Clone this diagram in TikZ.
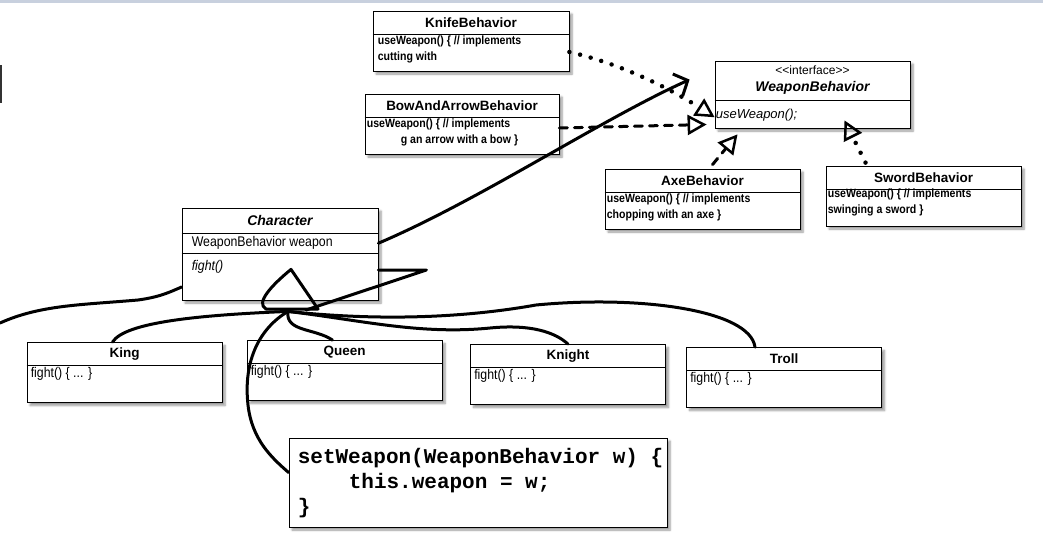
\documentclass[tikz,border=0pt]{standalone}
\usepackage{fontspec}
\setmainfont{Liberation Sans}
\newfontfamily\narrowfont{Liberation Sans}[FakeStretch=0.88]
\newfontfamily\codefont{Liberation Mono}
\usetikzlibrary{positioning,arrows.meta,shadows.blur}

\definecolor{topbar}{RGB}{200,208,222}

\tikzstyle{classbox} = [draw=black, fill=white, thick, rectangle, inner sep=0pt,
    blur shadow={shadow xshift=3pt, shadow yshift=-3pt, shadow blur steps=6}]
\tikzstyle{classname} = [inner sep=0pt, minimum height=23pt,
    font=\bfseries\fontsize{13.5}{16}\selectfont]
\tikzstyle{classbody} = [anchor=north west, inner sep=2pt, align=left,
    font=\narrowfont\bfseries\fontsize{12}{16}\selectfont]
\tikzstyle{hand} = [line width=3pt, line cap=round, line join=round]
\tikzstyle{realize} = [hand, -{Triangle[open, length=19pt, width=20pt, line width=2.5pt]}]
\tikzstyle{dotline} = [line width=4.5pt, dash pattern=on 0pt off 11pt]
\tikzstyle{dashline} = [dash pattern=on 8pt off 7pt]

\begin{document}
\begin{tikzpicture}[x=1pt, y=-1pt]
\useasboundingbox (0,0) rectangle (1043,555);
\fill[topbar] (0,0) rectangle (1043,3);
\fill[black!80] (0,65) rectangle (2,103);

%------------ Verhaltens-Klassen ---------------------
\node[classbox, minimum width=196pt, minimum height=60pt] (knife) at (471,41) {};
\node[classname, below=0pt of knife.north] (knife-t) {KnifeBehavior};
\draw[thick] (knife.west |- knife-t.south) -- (knife.east |- knife-t.south);
\node[classbody, inner xsep=5pt] (knife-b) at (knife.west |- knife-t.south)
    {useWeapon() \{ // implements\\cutting with};

\node[classbox, minimum width=194pt, minimum height=60pt] (bow) at (462,124) {};
\node[classname, below=0pt of bow.north] (bow-t) {BowAndArrowBehavior};
\draw[thick] (bow.west |- bow-t.south) -- (bow.east |- bow-t.south);
\node[classbody] (bow-b) at (bow.west |- bow-t.south)
    {useWeapon() \{ // implements\\\hspace*{34pt}g an arrow with a bow \}};

\node[classbox, minimum width=195pt, minimum height=60pt] (axe) at (702.5,199) {};
\node[classname, below=0pt of axe.north] (axe-t) {AxeBehavior};
\draw[thick] (axe.west |- axe-t.south) -- (axe.east |- axe-t.south);
\node[classbody] (axe-b) at (axe.west |- axe-t.south)
    {useWeapon() \{ // implements\\chopping with an axe \}};

\node[classbox, minimum width=195pt, minimum height=60pt] (sword) at (923.5,196) {};
\node[classname, below=0pt of sword.north] (sword-t) {SwordBehavior};
\draw[thick] (sword.west |- sword-t.south) -- (sword.east |- sword-t.south);
\node[classbody, inner ysep=0pt] (sword-b) at (sword.west |- sword-t.south)
    {useWeapon() \{ // implements\\swinging a sword \}};

%------------ Interface ---------------------
\node[classbox, minimum width=195pt, minimum height=67pt] (iface) at (812.5,94.5) {};
\node[classname, minimum height=39pt, align=center, below=0pt of iface.north,
    font=\bfseries\itshape\fontsize{14}{17}\selectfont] (iface-t)
    {{\normalfont\fontsize{12}{14}\selectfont <\kern0pt<interface>\kern0pt>}\\WeaponBehavior};
\draw[thick] (iface.west |- iface-t.south) -- (iface.east |- iface-t.south);
\node[classbody, inner xsep=1pt, font=\itshape\fontsize{13}{15}\selectfont] (iface-b)
    at ([yshift=-7pt]iface.west |- iface-t.south) {useWeapon();};

%------------ Character ---------------------
\node[classbox, minimum width=196pt, minimum height=92pt] (char) at (280,254) {};
\node[classname, minimum height=25pt, below=0pt of char.north,
    font=\bfseries\itshape\fontsize{14}{16}\selectfont] (char-t) {Character};
\draw[thick] (char.west |- char-t.south) -- (char.east |- char-t.south);
\node[classname, minimum height=20pt, anchor=north west, inner xsep=10pt,
    font=\narrowfont\fontsize{14}{16}\selectfont] (char-a) at (char.west |- char-t.south)
    {WeaponBehavior weapon};
\draw[thick] (char.west |- char-a.south) -- (char.east |- char-a.south);
\node[classbody, inner xsep=10pt, inner ysep=0pt, font=\narrowfont\itshape\fontsize{14}{16}\selectfont]
    (char-m) at ([yshift=-7pt]char.west |- char-a.south) {fight()};

%------------ Unterklassen ---------------------
\foreach \cls/\cx/\cy/\lbl in {king/124.5/372.5/King, queen/344.5/370.5/Queen,
    knight/568/374.5/Knight, troll/784/377.5/Troll}{
  \node[classbox, minimum width=195pt, minimum height=60pt] (\cls) at (\cx,\cy) {};
  \node[classname, below=0pt of \cls.north] (\cls-t) {\lbl};
  \draw[thick] (\cls.west |- \cls-t.south) -- (\cls.east |- \cls-t.south);
  \node[classbody, inner xsep=4pt, font=\narrowfont\fontsize{14}{16}\selectfont] (\cls-b)
      at (\cls.west |- \cls-t.south) {fight() \{ ... \}};
}

%------------ setWeapon ---------------------
\node[classbox, minimum width=378pt, minimum height=89pt] (code) at (478,482.5) {};
\node[anchor=north west, align=left, inner sep=0pt,
    font=\codefont\bfseries\fontsize{21}{25}\selectfont] (code-t)
    at ([xshift=9pt, yshift=-10pt]code.north west)
    {setWeapon(WeaponBehavior w) \{\\\hspace*{51pt}this.weapon = w;\\\}};

%------------ Implementierungen ---------------------
\draw[realize, dotline] ([yshift=-11pt]knife.east) .. controls (630,66) and (680,95) .. ([yshift=-2pt]iface-b.west);
\draw[realize, dashline] ([yshift=-4pt]bow.east) -- ([xshift=-8pt, yshift=-30pt]iface.west);
\draw[realize, dashline] ([xshift=10pt, yshift=4pt]axe.north) -- ([xshift=-75pt, yshift=-6pt]iface.south);
\draw[realize, dotline] ([xshift=-58pt, yshift=3pt]sword.north) -- ([xshift=32pt, yshift=8pt]iface.south);

%------------ Assoziation ---------------------
\draw[hand, -{Straight Barb[length=11pt, width=24pt]}] (char.east |- char-a)
    .. controls (480,200) and (600,120) .. ([xshift=-25pt, yshift=-19pt]iface.north west);

%------------ Vererbung ---------------------
\coordinate (apex) at ([xshift=11pt, yshift=31pt]char.south);
\coordinate (gen) at ([xshift=8pt, yshift=-11pt]char.south);
\draw[hand] (apex) .. controls (272,285) and (255,303) .. (266,309) -- (318,309) -- cycle;
\draw[hand] (gen) .. controls (200,315) and (125,322) .. ([xshift=-12pt]king.north);
\draw[hand] (gen) .. controls (285,332) and (315,328) .. ([xshift=-12pt]queen.north);
\draw[hand] (gen) .. controls (260,328) and (243,360) .. (248,405)
    .. controls (252,440) and (272,458) .. ([yshift=10pt]code.west);
\draw[hand] (gen) .. controls (360,320) and (420,335) .. (490,328)
    .. controls (530,324) and (555,332) .. (knight.north);
\draw[hand] (gen) .. controls (350,318) and (440,322) .. (536,305)
    .. controls (640,295) and (750,310) .. ([xshift=-29pt]troll.north);
\draw[hand] ([yshift=-16pt]char.east) -- ++(48,0) -- (306,310);
\draw[hand] (0,323) .. controls (40,305) and (80,305) .. (138,300)
    .. controls (160,297) and (170,292) .. ([yshift=-33pt]char.west);
\end{tikzpicture}
\end{document}
